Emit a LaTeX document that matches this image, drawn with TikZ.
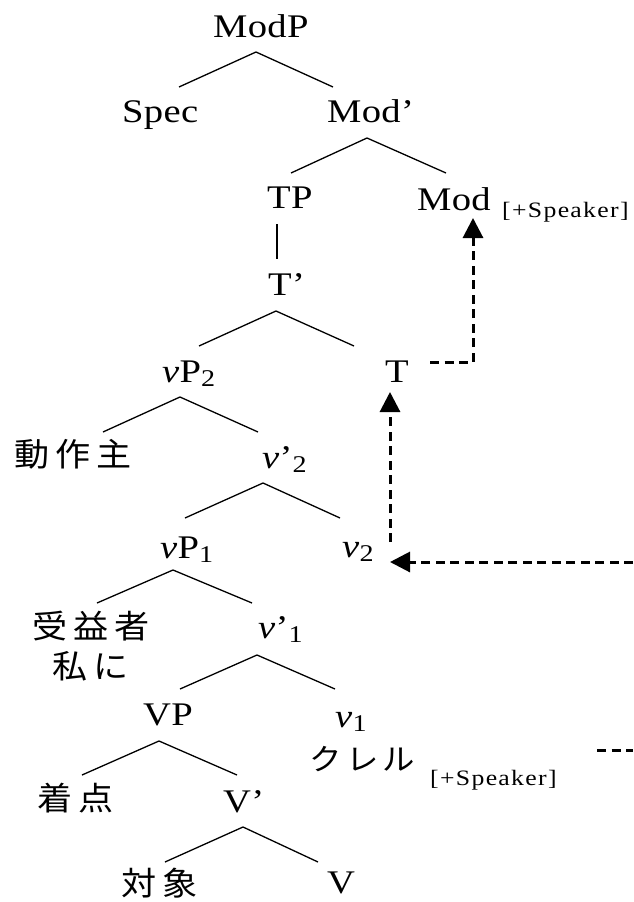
\documentclass[tikz,border=0pt]{standalone}
\usepackage{fontspec}
\usetikzlibrary{arrows.meta}
\setmainfont{Liberation Serif}[FakeStretch=1.17,LetterSpace=1]
\newfontfamily\spkfont{Liberation Serif}[FakeStretch=1.17,LetterSpace=6]
\newfontfamily\jpfont{Noto Sans CJK JP}[FakeStretch=1.08,LetterSpace=19]
\newfontfamily\jpkfont{Noto Sans CJK JP}[FakeStretch=1.08,LetterSpace=15]
\newcommand\sbs[1]{\raisebox{-4pt}{\fontsize{24}{24}\selectfont #1}}
\newcommand\spk{{\spkfont\fontsize{22}{22}\selectfont [+Speaker]}}
\begin{document}
\begin{tikzpicture}[x=1pt,y=-1pt,
  lab/.style={anchor=base west,inner sep=0,font=\fontsize{33}{38}\selectfont},
  jp/.style={anchor=base west,inner sep=0,font=\jpfont\fontsize{32.5}{36}\selectfont},
  br/.style={line width=1.3pt},
  mv/.style={line width=3pt,dash pattern=on 9pt off 5.5pt},
  tip/.style={-{Triangle[width=20pt,length=20pt]}}]
\useasboundingbox (0,0) rectangle (633,902);
% labels
\node[lab] (ModP) at (213,37) {ModP};
\node[lab] (Spec) at (122,122) {Spec};
\node[lab] (Modbar) at (327,122) {Mod’};
\node[lab] (TP) at (267,208) {TP};
\node[lab] (Mod) at (417,210) {Mod};
\node[anchor=base west,inner sep=0] (spk1) at (502,217) {\spk};
\node[lab] (Tbar) at (268,295) {T’};
\node[lab] (vP2) at (162,382) {\textit{v}P\sbs{2}};
\node[lab] (T) at (385,382) {T};
\node[jp] (agent) at (14,466) {動作主};
\node[lab] (vbar2) at (262,468) {\textit{v}’\sbs{2}};
\node[lab] (vP1) at (160,558) {\textit{v}P\sbs{1}};
\node[lab] (v2) at (342,557) {\textit{v}\sbs{2}};
\node[jp] (benef) at (32,638) {受益者};
\node[jp] (me) at (52,678) {私に};
\node[lab] (vbar1) at (258,638) {\textit{v}’\sbs{1}};
\node[lab] (VP) at (143,725) {VP};
\node[lab] (v1) at (335,727) {\textit{v}\sbs{1}};
\node[anchor=base west,inner sep=0,font=\jpkfont\fontsize{30}{34}\selectfont] (kureru) at (309,770) {クレル};
\node[anchor=base west,inner sep=0] (spk2) at (430,785) {\spk};
\node[jp] (goal) at (37,810) {着点};
\node[lab] (Vbar) at (223,812) {V’};
\node[jp] (theme) at (121,895) {対象};
\node[lab] (V) at (327,893) {V};
% branch points
\coordinate (ModP-a) at (256,52);  \coordinate (ModP-l) at (179,87);  \coordinate (ModP-r) at (333,87);
\coordinate (Modbar-a) at (367,138); \coordinate (Modbar-l) at (291,173); \coordinate (Modbar-r) at (446,173);
\coordinate (TP-a) at (277,224); \coordinate (TP-b) at (277,259);
\coordinate (Tbar-a) at (276,311); \coordinate (Tbar-l) at (199,346); \coordinate (Tbar-r) at (354,346);
\coordinate (vP2-a) at (180,397); \coordinate (vP2-l) at (103,432); \coordinate (vP2-r) at (258,432);
\coordinate (vbar2-a) at (263,483); \coordinate (vbar2-l) at (185,518); \coordinate (vbar2-r) at (340,518);
\coordinate (vP1-a) at (173,570); \coordinate (vP1-l) at (97,603); \coordinate (vP1-r) at (252,603);
\coordinate (vbar1-a) at (257,655); \coordinate (vbar1-l) at (180,689); \coordinate (vbar1-r) at (335,689);
\coordinate (VP-a) at (159,741); \coordinate (VP-l) at (82,775); \coordinate (VP-r) at (237,775);
\coordinate (Vbar-a) at (243,827); \coordinate (Vbar-l) at (165,862); \coordinate (Vbar-r) at (318,862);
\foreach \n in {ModP,Modbar,Tbar,vP2,vbar2,vP1,vbar1,VP,Vbar}{
  \draw[br] (\n-l) -- (\n-a) -- (\n-r);
}
\draw[br] (TP-a) -- (TP-b);
% movement arrows
\coordinate (T-out) at (430,362); \coordinate (T-bend) at (473,362); \coordinate (Mod-in) at (473,218);
\draw[mv,tip] (T-out) -- (T-bend) -- (Mod-in);
\coordinate (v2-out) at (390,542); \coordinate (T-in) at (390,392);
\draw[mv,tip] (v2-out) -- (T-in);
\coordinate (edge1) at (633,562); \coordinate (v2-in) at (390,562);
\draw[mv,tip] (edge1) -- (v2-in);
\coordinate (k-out) at (597,750); \coordinate (edge2) at (633,750);
\draw[mv] (k-out) -- (edge2);
\end{tikzpicture}
\end{document}
